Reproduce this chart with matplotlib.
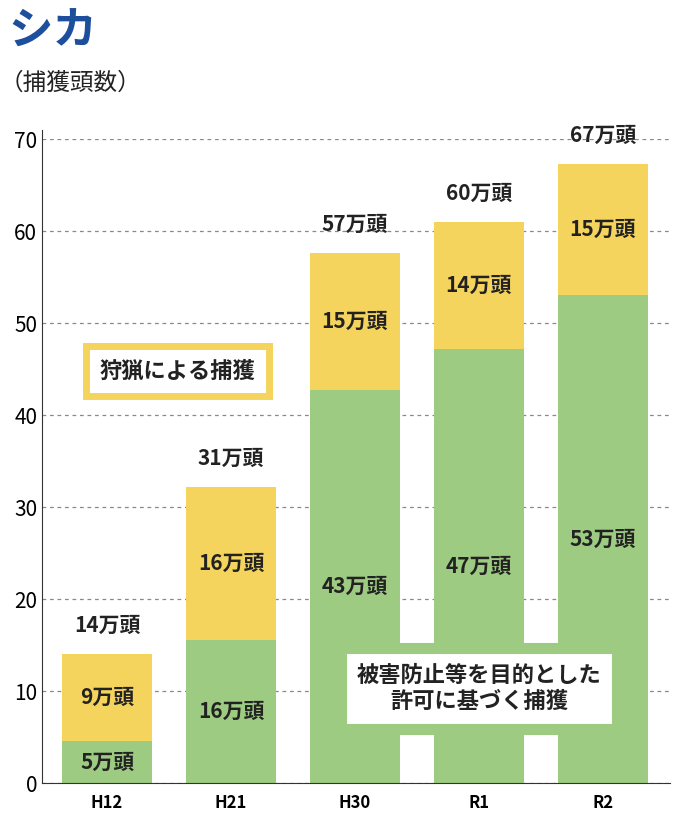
import matplotlib.pyplot as plt

plt.rcParams['font.family'] = ['Noto Sans CJK JP', 'DejaVu Sans']

years = ['H12', 'H21', 'H30', 'R1', 'R2']
permit = [4.6, 15.6, 42.7, 47.2, 53.0]
hunting = [9.4, 16.6, 14.9, 13.8, 14.3]
permit_labels = ['5万頭', '16万頭', '43万頭', '47万頭', '53万頭']
hunting_labels = ['9万頭', '16万頭', '15万頭', '14万頭', '15万頭']
total_labels = ['14万頭', '31万頭', '57万頭', '60万頭', '67万頭']

green = '#9dcb82'
yellow = '#f5d45e'

fig = plt.figure(figsize=(6.78, 8.30), dpi=100)
ax = fig.add_axes([0.062, 0.0566, 0.926, 0.7759])
x = range(len(years))
w = 0.726
ax.bar(x, permit, w, color=green, zorder=2)
ax.bar(x, hunting, w, bottom=permit, color=yellow, zorder=2)
for i in x:
    tot = permit[i] + hunting[i]
    ax.text(i, permit[i] / 2, permit_labels[i], ha='center', va='center',
            fontsize=15, fontweight='bold', color='#222222', zorder=3)
    ax.text(i, permit[i] + hunting[i] / 2, hunting_labels[i], ha='center', va='center',
            fontsize=15, fontweight='bold', color='#222222', zorder=3)
    ax.text(i, tot + 2.0, total_labels[i], ha='center', va='bottom', fontsize=15,
            fontweight='bold', color='#222222', zorder=3)

ax.set_xlim(-0.524, 4.54)
ax.set_ylim(0, 70)
ax.set_yticks(range(0, 71, 10))
ax.yaxis.grid(True, ls=(0, (3, 3)), color='#888888', lw=0.9, zorder=1)
ax.set_xticks(list(x))
ax.set_xticklabels(years, fontsize=12, fontweight='bold')
ax.tick_params(axis='y', labelsize=15, length=0)
ax.tick_params(axis='x', length=0, pad=8)
for s in ['top', 'right']:
    ax.spines[s].set_visible(False)
ax.spines['left'].set_color('#333333')
ax.spines['bottom'].set_color('#333333')
ax.spines['left'].set_bounds(0, 71)

# legend boxes
ax.text(0.57, 44.8, '狩猟による捕獲', ha='center', va='center', fontsize=16, fontweight='bold',
        color='#222222', zorder=5,
        bbox=dict(boxstyle='square,pad=0.6', fc='white', ec=yellow, lw=5))
ax.text(3.0, 10.3, '被害防止等を目的とした\n許可に基づく捕獲', ha='center', va='center',
        fontsize=16, fontweight='bold', color='#222222', linespacing=1.2, zorder=5,
        bbox=dict(boxstyle='square,pad=0.7', fc='white', ec=green, lw=8))

fig.text(0.012, 0.962, 'シカ', fontsize=32, fontweight='bold', color='#1d4f9c', va='center')
fig.text(0.0, 0.900, '（捕獲頭数）', fontsize=17, color='#222222', va='center')

fig.savefig('out.png', dpi=100)
